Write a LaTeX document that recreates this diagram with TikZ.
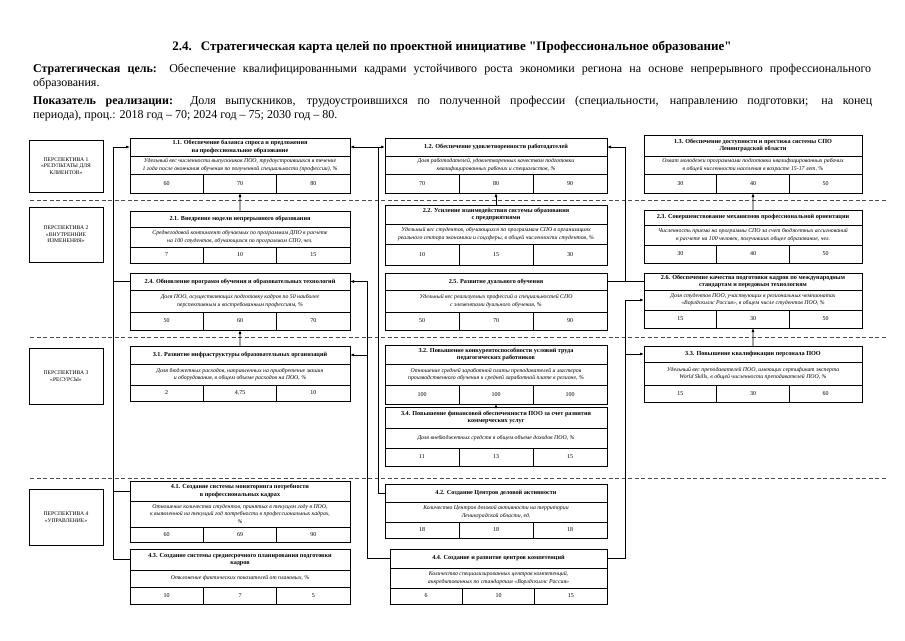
\documentclass[tikz,border=0pt]{standalone}
\usepackage{fontspec}
\setmainfont{Liberation Serif}
\newfontfamily\nqfont{Liberation Serif}
\usetikzlibrary{arrows.meta,calc}
\newcommand\gtfont{\bfseries\fontsize{6.2}{7.2}\selectfont}
\newcommand\gifont{\itshape\fontsize{5.8}{7.2}\selectfont}
\newcommand\gvfont{\fontsize{6}{7}\selectfont}
\newcommand\pfont{\fontsize{5.6}{6.6}\selectfont}
\newcommand\vals[3]{\def\gva{#1}\def\gvb{#2}\def\gvc{#3}}
\newcommand\gbox[9]{%
\pgfmathsetmacro\gw{#3-#2}%
\pgfmathsetmacro\gwt{(#3-#2)/3}%
\pgfmathsetmacro\gha{#5-#4}%
\pgfmathsetmacro\ghb{#6-#5}%
\pgfmathsetmacro\ghc{#7-#6}%
\node[cell,font=\gtfont,minimum width=\gw pt,minimum height=\gha pt] (#1t) at (#2,#4) {#8};
\node[cell,font=\gifont,minimum width=\gw pt,minimum height=\ghb pt] (#1i) at (#2,#5) {#9};
\node[cell,font=\gvfont,minimum width=\gwt pt,minimum height=\ghc pt] (#1a) at (#2,#6) {\gva};
\node[cell,font=\gvfont,minimum width=\gwt pt,minimum height=\ghc pt] (#1b) at (#1a.north east) {\gvb};
\node[cell,font=\gvfont,minimum width=\gwt pt,minimum height=\ghc pt] (#1c) at (#1b.north east) {\gvc};
}
\tikzset{
 cell/.style={draw,line width=0.75pt,anchor=north west,inner sep=1pt,outer sep=0pt,align=center},
 persp/.style={draw,line width=0.75pt,anchor=north west,inner sep=1pt,outer sep=0pt,align=center,font=\pfont,minimum width=74pt},
 conn/.style={line width=0.75pt},
 arr/.style={conn,-{Latex[length=4pt,width=3pt]}},
 sep/.style={dashed,dash pattern=on 4pt off 2.5pt,line width=0.6pt,black!70}
}
\begin{document}
\begin{tikzpicture}[x=1pt,y=-1pt]
\useasboundingbox (0,0) rectangle (905,640);
\fill[white] (0,0) rectangle (905,640);

% header
\node[font=\nqfont\bfseries\fontsize{13}{15}\selectfont] (hdr) at (452,47) {2.4.\hspace{9pt}Стратегическая карта целей по проектной инициативе "Профессиональное образование"};
\node[anchor=base west,inner sep=0,font=\fontsize{12}{14}\selectfont] (g1) at (33,72) {\makebox[838pt][s]{\textbf{Стратегическая цель:} Обеспечение квалифицированными кадрами устойчивого роста экономики региона на основе непрерывного профессионального}};
\node[anchor=base west,inner sep=0,font=\fontsize{12}{14}\selectfont] (g2) at (33,86) {образования.};
\node[anchor=base west,inner sep=0,font=\fontsize{12}{14}\selectfont] (q1) at (33,104) {\makebox[839pt][s]{\textbf{Показатель реализации:} Доля выпускников, трудоустроившихся по полученной профессии (специальности, направлению подготовки; на конец}};
\node[anchor=base west,inner sep=0,font=\fontsize{12}{14}\selectfont] (q2) at (33,118) {периода), проц.: 2018 год – 70; 2024 год – 75; 2030 год – 80.};

% dashed separators
\draw[sep] (30,200) -- (886,200);
\draw[sep] (30,337) -- (886,337);
\draw[sep] (30,478) -- (886,478);

% perspectives
\node[persp,minimum height=52pt] (P1) at (29,140) {ПЕРСПЕКТИВА 1\\«РЕЗУЛЬТАТЫ ДЛЯ\\КЛИЕНТОВ»};
\node[persp,minimum height=55pt] (P2) at (29,207) {ПЕРСПЕКТИВА 2\\«ВНУТРЕННИЕ\\ИЗМЕНЕНИЯ»};
\node[persp,minimum height=56pt] (P3) at (29,348) {ПЕРСПЕКТИВА 3\\«РЕСУРСЫ»};
\node[persp,minimum height=56pt] (P4) at (29,489) {ПЕРСПЕКТИВА 4\\«УПРАВЛЕНИЕ»};

% row 1
\vals{60}{70}{80}
\gbox{b11}{130}{350}{138}{156}{174}{193}{1.1. Обеспечение баланса спроса и предложения\\на профессиональное образование}{Удельный вес численности выпускников ПОО, трудоустроившихся в течение\\1 года после окончания обучения по полученной специальности (профессии), \%}
\vals{70}{80}{90}
\gbox{b12}{385}{607}{138}{156}{174}{193}{1.2. Обеспечение удовлетворенности работодателей}{Доля работодателей, удовлетворенных качеством подготовки\\квалифицированных рабочих и специалистов, \%}
\vals{30}{40}{50}
\gbox{b13}{644}{862}{135}{156}{174}{193}{1.3. Обеспечение доступности и престижа системы СПО\\Ленинградской области}{Охват молодежи программами подготовки квалифицированных рабочих\\в общей численности населения в возрасте 15-17 лет, \%}

% row 2
\vals{7}{10}{15}
\gbox{b21}{130}{350}{211}{227}{247}{263}{2.1. Внедрение модели непрерывного образования}{Среднегодовой контингент обучаемых по программам ДПО в расчете\\на 100 студентов, обучающихся по программам СПО, чел.}
\vals{10}{15}{30}
\gbox{b22}{385}{607}{205}{224}{244}{265}{2.2. Усиление взаимодействия системы образования\\с предприятиями}{Удельный вес студентов, обучающихся по программам СПО в организациях\\реального сектора экономики и соцсферы, в общей численности студентов, \%}
\vals{30}{40}{50}
\gbox{b23}{644}{862}{210}{225}{245}{263}{2.3. Совершенствование механизмов профессиональной ориентации}{Численность приема на программы СПО за счет бюджетных ассигнований\\в расчете на 100 человек, получивших общее образование, чел.}

\vals{50}{60}{70}
\gbox{b24}{130}{350}{273}{290}{312}{330}{2.4. Обновление программ обучения и образовательных технологий}{Доля ПОО, осуществляющих подготовку кадров по 50 наиболее\\перспективным и востребованным профессиям, \%}
\vals{50}{70}{90}
\gbox{b25}{385}{607}{273}{290}{312}{330}{2.5. Развитие дуального обучения}{Удельный вес реализуемых профессий и специальностей СПО\\с элементами дуального обучения, \%}
\vals{15}{30}{50}
\gbox{b26}{644}{862}{273}{290}{310}{328}{2.6. Обеспечение качества подготовки кадров по международным\\стандартам и передовым технологиям}{Доля студентов ПОО, участвующих в региональных чемпионатах\\«Ворлдскиллс Россия», в общем числе студентов ПОО, \%}

% row 3
\vals{2}{4,75}{10}
\gbox{b31}{130}{350}{346}{364}{385}{401}{3.1. Развитие инфраструктуры образовательных организаций}{Доля бюджетных расходов, направленных на приобретение машин\\и оборудования, в общем объеме расходов на ПОО, \%}
\vals{100}{100}{100}
\gbox{b32}{385}{607}{345}{364}{385}{404}{3.2. Повышение конкурентоспособности условий труда\\педагогических работников}{Отношение средней заработной платы преподавателей и мастеров\\производственного обучения к средней заработной плате в регионе, \%}
\vals{15}{30}{60}
\gbox{b33}{644}{862}{346}{362}{385}{402}{3.3. Повышение квалификации персонала ПОО}{Удельный вес преподавателей ПОО, имеющих сертификат эксперта\\World Skills, в общей численности преподавателей ПОО, \%}
\vals{11}{13}{15}
\gbox{b34}{385}{607}{407}{428}{448}{466}{3.4. Повышение финансовой обеспеченности ПОО за счет развития\\коммерческих услуг}{Доля внебюджетных средств в общем объеме доходов ПОО, \%}

% row 4
\vals{60}{69}{90}
\gbox{b41}{130}{350}{481}{501}{527}{542}{4.1. Создание системы мониторинга потребности\\в профессиональных кадрах}{Отношение количества студентов, принятых в текущем году в ПОО,\\к выявленной на текущий год потребности в профессиональных кадрах,\\\%}
\vals{18}{18}{18}
\gbox{b42}{385}{607}{484}{502}{522}{538}{4.2. Создание Центров деловой активности}{Количество Центров деловой активности на территории\\Ленинградской области, ед.}
\vals{10}{7}{5}
\gbox{b43}{130}{350}{549}{570}{587}{604}{4.3. Создание системы среднесрочного планирования подготовки\\кадров}{Отклонение фактических показателей от плановых, \%}
\vals{6}{10}{15}
\gbox{b44}{390}{607}{549}{568}{588}{604}{4.4. Создание и развитие центров компетенций}{Количество специализированных центров компетенций,\\аккредитованных по стандартам «Ворлдскиллс Россия»}

% vertical arrows
\draw[arr] (b21t.north) -- (b11b.south);
\draw[arr] (b22t.north) -- (b12b.south);
\draw[arr] (b23t.north) -- (b13b.south);
\draw[arr] (b31t.north) -- (b24b.south);
\draw[arr] (b33t.north) -- (b26b.south);
\draw[arr] (b34t.north) -- (b32b.south);

% left bus
\draw[arr] (b43t.west) -- ++(-17,0) coordinate (lb) |- (b11t.west);
\draw[conn] (b24t.west) -- (b24t.west -| lb);
\draw[conn] (b41t.west) -- (b41t.west -| lb);

% bus A
\coordinate (xA) at (378,147);
\draw[conn,{Latex[length=4pt,width=3pt]}-{Latex[length=4pt,width=3pt]}] (b11t.east) -- (b12t.west);
\draw[conn] (b42t.west) -| (xA);

% bus B
\coordinate (xB) at (367,0);
\draw[arr] (b44t.west) -| (xB |- b24t.east) -- (b24t.east);
\draw[arr] (xB |- b31t.east) -- (b31t.east);

% bus C
\coordinate (xC) at (625,0);
\draw[arr] (b25t.east) -| (xC |- b12t.east) -- (b12t.east);
\draw[conn] (b25t.east) -- (b26t.west);
\draw[arr] (b44t.east) -| (xC |- b26i.west) -- (b26i.west);
\draw[arr] (xC |- b33t.west) -- (b33t.west);
\end{tikzpicture}
\end{document}
